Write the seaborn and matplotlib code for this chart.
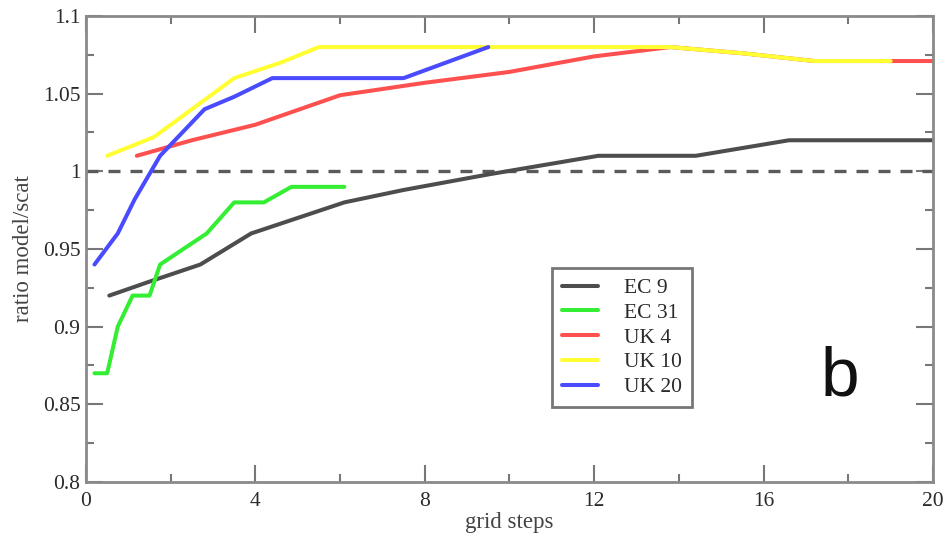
import matplotlib
matplotlib.use("Agg")
import matplotlib.pyplot as plt
from matplotlib.ticker import MultipleLocator, FuncFormatter
import numpy as np
import pandas as pd
import seaborn as sns

# Model / scatterometer ratio as a function of grid steps
series_names = ["EC 9", "EC 31", "UK 4", "UK 10", "UK 20"]

ec9_x = [0.55, 1.5, 2.7, 3.3, 3.9, 5.0, 6.1, 7.5, 9.5, 12.1, 14.4, 16.6, 20.0]
ec9_y = [0.920, 0.929, 0.940, 0.950, 0.960, 0.970, 0.980, 0.988, 0.998, 1.010, 1.010, 1.020, 1.020]

ec31_x = [0.2, 0.5, 0.75, 1.1, 1.5, 1.75, 2.85, 3.5, 4.2, 4.85, 6.1]
ec31_y = [0.870, 0.870, 0.900, 0.920, 0.920, 0.940, 0.960, 0.980, 0.980, 0.990, 0.990]

uk4_x = [1.2, 2.5, 4.0, 6.0, 8.0, 10.0, 12.0, 13.8, 15.5, 17.2, 20.0]
uk4_y = [1.010, 1.020, 1.030, 1.049, 1.057, 1.064, 1.074, 1.080, 1.076, 1.071, 1.071]

uk10_x = [0.5, 1.6, 2.5, 3.5, 4.6, 5.5, 9.5, 13.8, 15.5, 17.2, 19.0]
uk10_y = [1.010, 1.022, 1.040, 1.060, 1.070, 1.080, 1.080, 1.080, 1.076, 1.071, 1.071]

uk20_x = [0.2, 0.75, 1.15, 1.75, 2.8, 3.5, 4.4, 7.5, 9.5]
uk20_y = [0.940, 0.960, 0.982, 1.010, 1.040, 1.048, 1.060, 1.060, 1.080]

series_colors = ["#4d4d4d", "#33ee33", "#ff5050", "#ffff33", "#4a4aff"]

frames = []
for name, xs, ys in zip(series_names,
                        [ec9_x, ec31_x, uk4_x, uk10_x, uk20_x],
                        [ec9_y, ec31_y, uk4_y, uk10_y, uk20_y]):
    frames.append(pd.DataFrame({"grid steps": xs, "ratio": ys, "series": name}))
df = pd.concat(frames, ignore_index=True)

sns.set_style("ticks")
plt.rcParams["font.family"] = ["Liberation Serif", "DejaVu Serif"]

fig = plt.figure(figsize=(9.47, 5.42), dpi=100)
ax = fig.add_axes([0.0908, 0.1107, 0.8944, 0.8598])

# reference level
ax.axhline(1.0, color="#5a5a5a", lw=2.4, linestyle=(0, (3.6, 3.0)), zorder=1)

sns.lineplot(data=df, x="grid steps", y="ratio", hue="series",
             hue_order=series_names, palette=series_colors,
             sort=False, estimator=None, lw=2.9, ax=ax, zorder=2)

ax.set_xlim(0, 20)
ax.set_ylim(0.8, 1.1)
ax.xaxis.set_major_locator(MultipleLocator(4))
ax.xaxis.set_minor_locator(MultipleLocator(2))
ax.yaxis.set_major_locator(MultipleLocator(0.05))
ax.yaxis.set_minor_locator(MultipleLocator(0.025))
ax.yaxis.set_major_formatter(FuncFormatter(lambda v, p: f"{v:g}"))
ax.xaxis.set_major_formatter(FuncFormatter(lambda v, p: f"{v:g}"))

ax.tick_params(which="both", direction="in", top=True, right=True,
               color="#777777", width=1.5, labelsize=15.5, labelcolor="#2a2a2a")
ax.tick_params(which="major", length=12)
ax.tick_params(which="minor", length=6)
ax.tick_params(axis="x", which="major", pad=7)
ax.tick_params(axis="y", which="major", pad=4)

for sp in ax.spines.values():
    sp.set_visible(True)
    sp.set_color("#8a8a8a")
    sp.set_linewidth(2.0)

ax.set_xlabel("grid steps", fontsize=16.5, color="#444444", labelpad=1)
ax.set_ylabel("ratio model/scat", fontsize=16.5, color="#444444", labelpad=6)

handles, labels = ax.get_legend_handles_labels()
leg = ax.legend(handles, labels, loc="lower left", bbox_to_anchor=(0.55, 0.161),
                fontsize=15.5, frameon=True, fancybox=False, framealpha=1,
                edgecolor="#777777", handlelength=1.7, handletextpad=1.2,
                labelspacing=0.22, borderpad=0.45, borderaxespad=0)
leg.get_frame().set_linewidth(2.0)
for t in leg.get_texts():
    t.set_color("#2a2a2a")

ax.text(0.89, 0.225, "b", transform=ax.transAxes, fontsize=50,
        family=["Liberation Sans", "DejaVu Sans"], color="#111111",
        ha="center", va="center")

fig.savefig("out.png", dpi=100)
